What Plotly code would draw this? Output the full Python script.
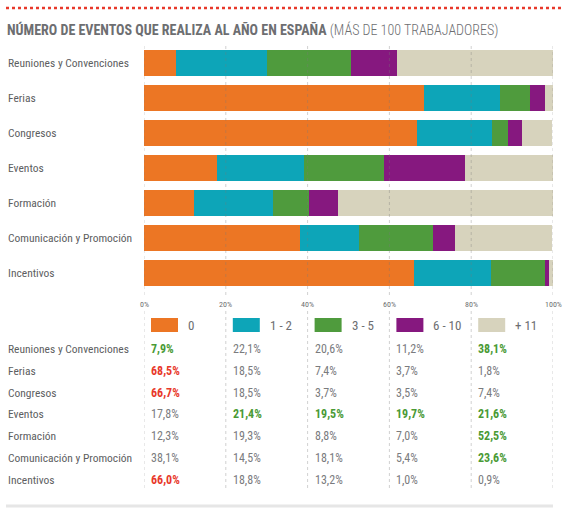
import plotly.graph_objects as go

categories = ["Reuniones y Convenciones", "Ferias", "Congresos", "Eventos",
              "Formación", "Comunicación y Promoción", "Incentivos"]
series_names = ["0", "1 - 2", "3 - 5", "6 - 10", "+ 11"]
zero = [7.9, 68.5, 66.7, 17.8, 12.3, 38.1, 66.0]
one_two = [22.1, 18.5, 18.5, 21.4, 19.3, 14.5, 18.8]
three_five = [20.6, 7.4, 3.7, 19.5, 8.8, 18.1, 13.2]
six_ten = [11.2, 3.7, 3.5, 19.7, 7.0, 5.4, 1.0]
eleven_plus = [38.1, 1.8, 7.4, 21.6, 52.5, 23.6, 0.9]
tick_values = [0, 20, 40, 60, 80, 100]
# highlight per table cell: "r" red, "g" green, "" plain
highlight = [
    ["g", "", "", "", "g"],
    ["r", "", "", "", ""],
    ["r", "", "", "", ""],
    ["", "g", "g", "g", "g"],
    ["", "", "", "", "g"],
    ["", "", "", "", "g"],
    ["r", "", "", "", ""],
]

series = [zero, one_two, three_five, six_ten, eleven_plus]
colors = ["#EC7624", "#0DA5B8", "#4F9B3D", "#86187F", "#D7D3BD"]

W, H = 567, 512
FONT = "Roboto Condensed, Liberation Sans Narrow, DejaVu Sans Condensed, sans-serif"
GRAY = "#6d6e71"
LBL_GRAY = "#5d5e61"
VAL_GRAY = "#7a7b7e"
RED = "#e8392b"
GREEN = "#4a9a35"


def px(x):
    return x / W


def py(y):
    return 1 - y / H


fig = go.Figure()
for name, vals, col in zip(series_names, series, colors):
    fig.add_trace(go.Bar(
        x=vals, y=categories, orientation="h", name=name,
        marker=dict(color=col, line=dict(width=0)),
        showlegend=False, hoverinfo="x+y",
    ))

annotations = []
shapes = []

# title
annotations.append(dict(
    x=px(5), y=py(30), xref="paper", yref="paper", xanchor="left", yanchor="middle",
    text="<b>NÚMERO DE EVENTOS QUE REALIZA AL AÑO EN ESPAÑA</b> "
         "<span style='font-weight:300'>(MÁS DE 100 TRABAJADORES)</span>",
    showarrow=False, font=dict(family=FONT, size=14, color=GRAY)))

# red dotted top line
shapes.append(dict(type="line", xref="paper", yref="paper",
                   x0=px(6), x1=px(561), y0=py(8), y1=py(8),
                   line=dict(color=RED, width=2.5, dash="dot")))

# bottom gray line
shapes.append(dict(type="line", xref="paper", yref="paper",
                   x0=px(6), x1=px(553), y0=py(506), y1=py(506),
                   line=dict(color="#e6e6e6", width=3)))

# category labels next to bars
for c in categories:
    annotations.append(dict(x=px(6), y=c, xref="paper", yref="y", xanchor="left",
                            yanchor="middle", text=c, showarrow=False,
                            font=dict(family=FONT, size=11.5, color=LBL_GRAY)))

# dotted gridlines
for t in tick_values:
    shapes.append(dict(type="line", xref="x", yref="paper", x0=t, x1=t,
                       y0=py(46), y1=py(298), layer="above",
                       line=dict(color="rgba(120,120,120,0.35)", width=1, dash="dot")))
    shapes.append(dict(type="line", xref="x", yref="paper", x0=t, x1=t,
                       y0=py(311), y1=py(490), layer="above",
                       line=dict(color="rgba(120,120,120,0.35)", width=1, dash="dot")))
    annotations.append(dict(x=t, y=py(304.5), xref="x", yref="paper", xanchor="center",
                            yanchor="middle", text=f"{t}%", showarrow=False,
                            font=dict(family=FONT, size=8, color=GRAY)))

# legend row
for j, (name, col) in enumerate(zip(series_names, colors)):
    base = tick_values[j]
    shapes.append(dict(type="rect", xref="x", yref="paper", xsizemode="pixel",
                       xanchor=base, x0=7, x1=34, y0=py(332), y1=py(318),
                       fillcolor=col, line=dict(width=0)))
    annotations.append(dict(x=base, xshift=42, y=py(325), xref="x", yref="paper",
                            xanchor="left", yanchor="middle", text=name, showarrow=False,
                            font=dict(family=FONT, size=13, color=GRAY)))

# table
for i, c in enumerate(categories):
    yy = py(349 + 21.8 * i)
    annotations.append(dict(x=px(6), y=yy, xref="paper", yref="paper", xanchor="left",
                            yanchor="middle", text=c, showarrow=False,
                            font=dict(family=FONT, size=11.5, color=LBL_GRAY)))
    for j, vals in enumerate(series):
        v = vals[i]
        txt = f"{v:.1f}".replace(".", ",") + "%"
        h = highlight[i][j]
        if h == "r":
            txt = f"<b>{txt}</b>"
            colr = RED
        elif h == "g":
            txt = f"<b>{txt}</b>"
            colr = GREEN
        else:
            colr = VAL_GRAY
        annotations.append(dict(x=tick_values[j], xshift=5, y=yy, xref="x", yref="paper",
                                xanchor="left", yanchor="middle", text=txt, showarrow=False,
                                font=dict(family=FONT, size=12, color=colr)))

fig.update_layout(
    width=W, height=H, barmode="stack", bargap=0.24,
    margin=dict(l=0, r=0, t=0, b=0),
    paper_bgcolor="white", plot_bgcolor="white",
    xaxis=dict(domain=[px(144), px(553)], range=[0, 100], showgrid=False,
               zeroline=False, showticklabels=False, fixedrange=True),
    yaxis=dict(domain=[py(290.5), py(45.5)], categoryorder="array",
               categoryarray=categories, range=[6.5, -0.5], showgrid=False,
               zeroline=False, showticklabels=False, fixedrange=True),
    annotations=annotations, shapes=shapes,
    font=dict(family=FONT, color=GRAY),
)

fig.write_html("out.html", config={"displayModeBar": False},
               post_script="document.body.style.margin='0px';document.body.style.overflow='hidden';")
